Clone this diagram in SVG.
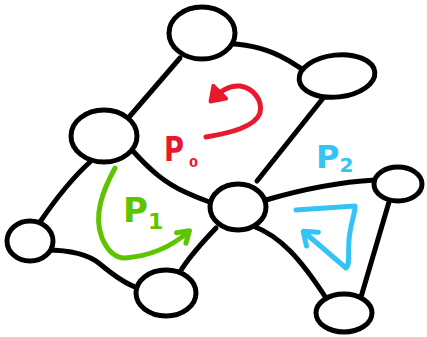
<svg xmlns="http://www.w3.org/2000/svg" width="427" height="337" viewBox="0 0 427 337">
<style>
.edge{fill:none;stroke:#000;stroke-width:5;stroke-linecap:round;stroke-linejoin:round}
.node{fill:#fff;stroke:#000;stroke-width:5}
.arr{fill:none;stroke-width:5;stroke-linecap:round;stroke-linejoin:round}
.lbl{font-family:"DejaVu Sans","Liberation Sans",sans-serif;font-weight:bold}
</style>
<defs>
<marker id="mr" markerUnits="userSpaceOnUse" viewBox="0 0 24 24" refX="14" refY="12" markerWidth="24" markerHeight="24" orient="auto">
<path d="M3,3 L16,12 L3,21 Z" fill="#e8192c" stroke="#e8192c" stroke-width="4" stroke-linejoin="round"/>
</marker>
<marker id="mg" markerUnits="userSpaceOnUse" viewBox="0 0 20 20" refX="12" refY="10" markerWidth="20" markerHeight="20" orient="auto">
<path d="M3,3 L14,10 L3,17" fill="none" stroke="#5ec400" stroke-width="5" stroke-linecap="round" stroke-linejoin="round"/>
</marker>
<marker id="mb" markerUnits="userSpaceOnUse" viewBox="0 0 24 24" refX="14" refY="12" markerWidth="24" markerHeight="24" orient="auto">
<path d="M3,3 L15,12 L3,21" fill="none" stroke="#33c4f5" stroke-width="5" stroke-linecap="round" stroke-linejoin="round"/>
</marker>
</defs>
<rect width="427" height="337" fill="#fff"/>
<g id="connectors">
<path class="edge" d="M208,44 C235,42 260,46 280,56 S300,70 310,72"/>
<path class="edge" d="M180,58 L130,116"/>
<path class="edge" d="M328,92 L257,181"/>
<path class="edge" d="M132,150 C150,170 165,183 185,192 S205,200 212,203"/>
<path class="edge" d="M90,162 C70,180 55,200 40,222"/>
<path class="edge" d="M46,250 C70,250 88,254 100,264 S125,284 138,288"/>
<path class="edge" d="M180,272 C190,255 205,240 216,228"/>
<path class="edge" d="M266,200 C300,190 340,182 375,180"/>
<path class="edge" d="M253,226 C280,236 300,258 326,298"/>
<path class="edge" d="M389,202 L361,297"/>
</g>
<g id="n-top"><ellipse class="node" cx="202" cy="33" rx="33" ry="26"/></g>
<g id="n-upper-right"><ellipse class="node" cx="337" cy="76" rx="38" ry="21" transform="rotate(-6 337 76)"/></g>
<g id="n-left"><ellipse class="node" cx="104" cy="136" rx="33" ry="26"/></g>
<g id="n-center"><ellipse class="node" cx="238" cy="207" rx="28" ry="23"/></g>
<g id="n-right"><ellipse class="node" cx="398" cy="184" rx="24" ry="17"/></g>
<g id="n-far-left"><ellipse class="node" cx="30" cy="241" rx="23" ry="20"/></g>
<g id="n-bottom"><ellipse class="node" cx="166" cy="293" rx="30" ry="23"/></g>
<g id="n-bottom-right"><ellipse class="node" cx="344" cy="313" rx="28" ry="19"/></g>
<g id="p0">
<path class="arr" stroke="#e8192c" marker-end="url(#mr)" d="M206,137 C230,133 255,127 260,113 C263,100 253,88 240,86 C228,85 220,92 212,100"/>
<text class="lbl" x="164" y="161" font-size="34" fill="#e8192c" textLength="20" lengthAdjust="spacingAndGlyphs">P</text>
<text class="lbl" x="189" y="167" font-size="13" fill="#e8192c">0</text>
</g>
<g id="p1">
<path class="arr" stroke="#5ec400" marker-end="url(#mg)" d="M115,168 C103,190 93,215 102,238 C108,252 115,258 125,258 C150,256 170,248 188,232"/>
<text class="lbl" x="123" y="222" font-size="34" fill="#5ec400">P<tspan font-size="22" dx="0" dy="7">1</tspan></text>
</g>
<g id="p2">
<path class="arr" stroke="#33c4f5" marker-end="url(#mb)" d="M296,210 L355,206 C356,210 350,225 349,240 C348,255 350,265 346,268 L304,232"/>
<text class="lbl" x="316" y="168" font-size="32" fill="#33c4f5">P<tspan font-size="20" dx="0" dy="4">2</tspan></text>
</g>
</svg>
